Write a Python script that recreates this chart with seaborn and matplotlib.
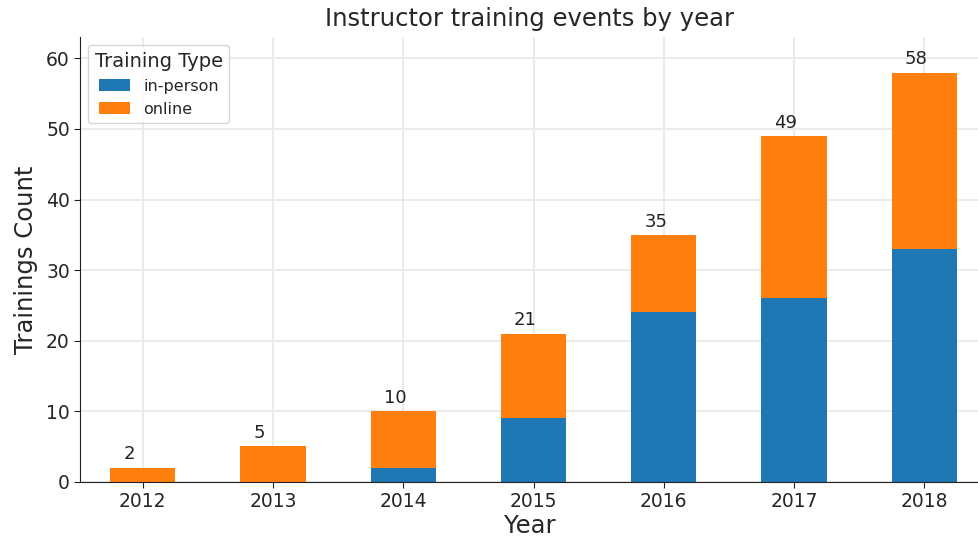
import pandas as pd
import matplotlib
matplotlib.use("Agg")
import matplotlib.pyplot as plt
import seaborn as sns

# Training counts per year
years = ["2012", "2013", "2014", "2015", "2016", "2017", "2018"]
in_person = [0, 0, 2, 9, 24, 26, 33]
online = [2, 5, 8, 12, 11, 23, 25]

df = pd.DataFrame({"year": years, "in-person": in_person, "online": online})
df["total"] = df["in-person"] + df["online"]

sns.set_style("whitegrid", {"grid.color": "#ebebeb", "axes.edgecolor": "#222222"})
plt.rcParams["font.family"] = ["DejaVu Sans"]

fig = plt.figure(figsize=(9.79, 5.4), dpi=100)
ax = fig.add_axes([0.082, 0.108, 0.918, 0.823])

blue = "#1f77b4"
orange = "#ff7f0e"

# stacked bars: total in orange, in-person drawn over it in blue
sns.barplot(x="year", y="total", data=df, color=orange, width=0.5,
            saturation=1, ax=ax, label="online", linewidth=0)
sns.barplot(x="year", y="in-person", data=df, color=blue, width=0.5,
            saturation=1, ax=ax, label="in-person", linewidth=0)

# totals above each bar
for i, t in enumerate(df["total"]):
    ax.text(i - 0.15, t + 0.6, str(t), ha="left", va="bottom", fontsize=13, color="#222222")

ax.set_xlim(-0.48, 6.42)
ax.set_ylim(0, 63)
ax.set_yticks(range(0, 61, 10))
ax.grid(True, axis="both", linewidth=1.4)
ax.set_axisbelow(True)
for s in ["top", "right"]:
    ax.spines[s].set_visible(False)
ax.tick_params(axis="both", labelsize=13.5, length=4, color="#222222", left=True, bottom=True)

ax.set_title("Instructor training events by year", fontsize=17.5, pad=8)
ax.set_xlabel("Year", fontsize=17.5, labelpad=2)
ax.set_ylabel("Trainings Count", fontsize=17.5, labelpad=6)

handles, labels = ax.get_legend_handles_labels()
order = [labels.index("in-person"), labels.index("online")]
ax.legend([handles[k] for k in order], [labels[k] for k in order],
          title="Training Type", loc="upper left", fontsize=11.5, title_fontsize=14,
          frameon=True)

fig.savefig("out.png", dpi=100)
